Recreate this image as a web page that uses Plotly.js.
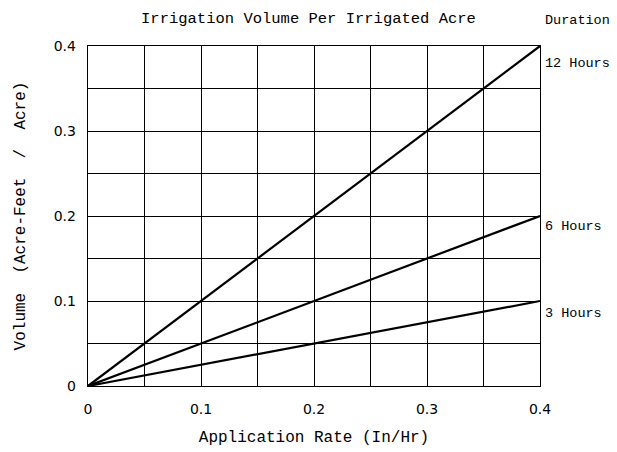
<!DOCTYPE html>
<html><head><meta charset="utf-8">
<script src="https://cdn.plot.ly/plotly-3.0.1.min.js"></script>
<style>body{margin:0;background:#fff}#c{width:617px;height:452px}</style>
</head><body><div id="c"></div>
<script>
const rates = [0, 0.4];
const vol12 = [0, 0.4];
const vol6 = [0, 0.2];
const vol3 = [0, 0.1];
const seriesNames = ["12 Hours", "6 Hours", "3 Hours"];
const series = [vol12, vol6, vol3];
const xTicks = [0, 0.1, 0.2, 0.3, 0.4];
const xTickText = ["0", "0.1", "0.2", "0.3", "0.4"];
const yTicks = [0, 0.1, 0.2, 0.3, 0.4];
const yTickText = ["0", "0.1", "0.2", "0.3", "0.4"];

const mono = "Liberation Mono, DejaVu Sans Mono, monospace";
const sans = "DejaVu Sans, Liberation Sans, sans-serif";
const traces = series.map((s, i) => ({
  x: rates, y: s, mode: "lines", name: seriesNames[i],
  line: {color: "#000", width: 2.2}, hoverinfo: "skip"
}));
const shifts = [-17, -10, -12];
const annotations = series.map((s, i) => ({
  x: rates[rates.length - 1], y: s[s.length - 1], xref: "x", yref: "y",
  text: seriesNames[i], showarrow: false, xanchor: "left", yanchor: "middle",
  xshift: 3, yshift: shifts[i], font: {family: mono, size: 13.5, color: "#000"}
}));
annotations.push({
  x: 1, y: 1, xref: "paper", yref: "paper", text: "Duration", showarrow: false,
  xanchor: "left", yanchor: "bottom", xshift: 3, yshift: 16,
  font: {family: mono, size: 13.5, color: "#000"}
});
Plotly.newPlot("c", traces, {
  width: 617, height: 452,
  margin: {l: 88, r: 77, t: 46, b: 66},
  paper_bgcolor: "#fff", plot_bgcolor: "#fff",
  showlegend: false,
  title: {text: "Irrigation Volume Per Irrigated Acre", x: 0.5, xanchor: "center", y: 0.962, yanchor: "middle",
    font: {family: mono, size: 15.5, color: "#000"}},
  xaxis: {range: [0, 0.4], tickvals: xTicks, ticktext: xTickText, showgrid: true,
    gridcolor: "#000", gridwidth: 1, zeroline: false, showline: true, linecolor: "#000", linewidth: 1.3, mirror: true,
    ticks: "outside", ticklen: 10, tickcolor: "rgba(0,0,0,0)", tickfont: {family: sans, size: 14, color: "#000"},
    minor: {dtick: 0.05, showgrid: true, gridcolor: "#000", gridwidth: 1},
    title: {text: "Application Rate (In/Hr)", standoff: 14, font: {family: mono, size: 16, color: "#000"}}},
  yaxis: {range: [0, 0.4], tickvals: yTicks, ticktext: yTickText, showgrid: true,
    gridcolor: "#000", gridwidth: 1, zeroline: false, showline: true, linecolor: "#000", linewidth: 1.3, mirror: true,
    ticks: "outside", ticklen: 8, tickcolor: "rgba(0,0,0,0)", tickfont: {family: sans, size: 14, color: "#000"},
    minor: {dtick: 0.05, showgrid: true, gridcolor: "#000", gridwidth: 1},
    title: {text: "Volume  (Acre-Feet  /  Acre)", standoff: 24, font: {family: mono, size: 16, color: "#000"}}},
  annotations: annotations
}, {displayModeBar: false, staticPlot: true});
</script></body></html>
